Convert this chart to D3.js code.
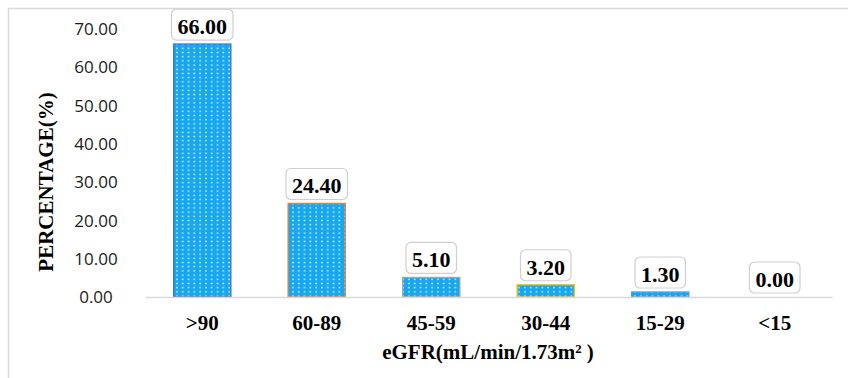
<!DOCTYPE html>
<html>
<head>
<meta charset="utf-8">
<script src="https://cdn.jsdelivr.net/npm/d3@7/dist/d3.min.js"></script>
<style>
  html, body { margin: 0; padding: 0; background: #fff; }
  svg { display: block; }
</style>
</head>
<body>
<script>
// eGFR stage distribution
const categories = [">90", "60-89", "45-59", "30-44", "15-29", "<15"];
const percentages = [66.00, 24.40, 5.10, 3.20, 1.30, 0.00];
const outlineColors = ["#4472C4", "#ED7D31", "#A5A5A5", "#FFC000", "#5B9BD5", "#70AD47"];
const yTicks = [0, 10, 20, 30, 40, 50, 60, 70];

const W = 848, H = 378;
const svg = d3.select("body").append("svg").attr("width", W).attr("height", H);

// frame
svg.append("rect")
  .attr("x", 8.5).attr("y", 8.5).attr("width", W + 10).attr("height", H + 10)
  .attr("fill", "#fff").attr("stroke", "#d9d9d9").attr("stroke-width", 1.5);

// dotted fill pattern
const defs = svg.append("defs");
const pat = defs.append("pattern")
  .attr("id", "dots").attr("patternUnits", "userSpaceOnUse")
  .attr("width", 5.8).attr("height", 4.2);
pat.append("rect").attr("width", 5.8).attr("height", 4.2).attr("fill", "#17a7ee");
pat.append("rect").attr("x", 2.2).attr("y", 1.4).attr("width", 1.5).attr("height", 1.4)
  .attr("fill", "#ffffff").attr("opacity", 0.9);

const x = d3.scaleBand().domain(categories).range([145, 832])
  .paddingInner(0.5).paddingOuter(0.25);
const y = d3.scaleLinear().domain([0, 70]).range([297, 28.7]);

// bars
svg.append("g").selectAll("rect")
  .data(percentages)
  .join("rect")
  .attr("x", (d, i) => x(categories[i]))
  .attr("width", x.bandwidth())
  .attr("y", d => y(d))
  .attr("height", d => y(0) - y(d))
  .attr("fill", "url(#dots)")
  .attr("stroke", (d, i) => outlineColors[i])
  .attr("stroke-width", d => d > 0 ? 1.3 : 0);

// x axis
const xAxis = svg.append("g")
  .attr("transform", `translate(0,${y(0)})`)
  .call(d3.axisBottom(x).tickSize(0).tickSizeOuter(0).tickPadding(0));
xAxis.select(".domain").attr("stroke", "#d9d9d9").attr("stroke-width", 1.5);
xAxis.selectAll("text")
  .attr("y", 33).attr("dy", 0)
  .attr("font-family", "'Liberation Serif', 'Times New Roman', serif")
  .attr("font-weight", "bold").attr("font-size", 21).attr("fill", "#000");

// y axis
const yAxis = svg.append("g")
  .attr("transform", "translate(96,0)")
  .call(d3.axisLeft(y).tickValues(yTicks).tickSize(0).tickFormat(d3.format(".2f")));
yAxis.select(".domain").remove();
yAxis.selectAll("text")
  .attr("x", 0).attr("dy", "0.35em").attr("text-anchor", "middle")
  .attr("font-family", "'Open Sans', sans-serif")
  .attr("font-size", 17).attr("fill", "#1a1a1a");

// value labels in rounded boxes
const fmt = d3.format(".2f");
const lab = svg.append("g").selectAll("g")
  .data(percentages)
  .join("g")
  .attr("transform", (d, i) => `translate(${x(categories[i]) + x.bandwidth() / 2},${y(d) - 4})`);
lab.each(function (d) {
  const g = d3.select(this);
  const t = g.append("text")
    .attr("text-anchor", "middle").attr("y", -6)
    .attr("font-family", "'Liberation Serif', 'Times New Roman', serif")
    .attr("font-weight", "bold").attr("font-size", 22).attr("fill", "#000")
    .text(fmt(d));
  const w = t.node().getComputedTextLength() + 12;
  g.insert("rect", "text")
    .attr("x", -w / 2).attr("y", -31).attr("width", w).attr("height", 31)
    .attr("rx", 5).attr("ry", 5)
    .attr("fill", "#fff").attr("stroke", "#cfcfcf").attr("stroke-width", 1.2);
});

// axis titles
svg.append("text")
  .attr("x", 488).attr("y", 359).attr("text-anchor", "middle")
  .attr("font-family", "'Liberation Serif', 'Times New Roman', serif")
  .attr("font-weight", "bold").attr("font-size", 21).attr("fill", "#000")
  .text("eGFR(mL/min/1.73m² )");

svg.append("text")
  .attr("transform", "translate(53,182) rotate(-90)")
  .attr("text-anchor", "middle")
  .attr("font-family", "'Liberation Serif', 'Times New Roman', serif")
  .attr("font-weight", "bold").attr("font-size", 21).attr("fill", "#000")
  .text("PERCENTAGE(%)");
</script>
</body>
</html>
